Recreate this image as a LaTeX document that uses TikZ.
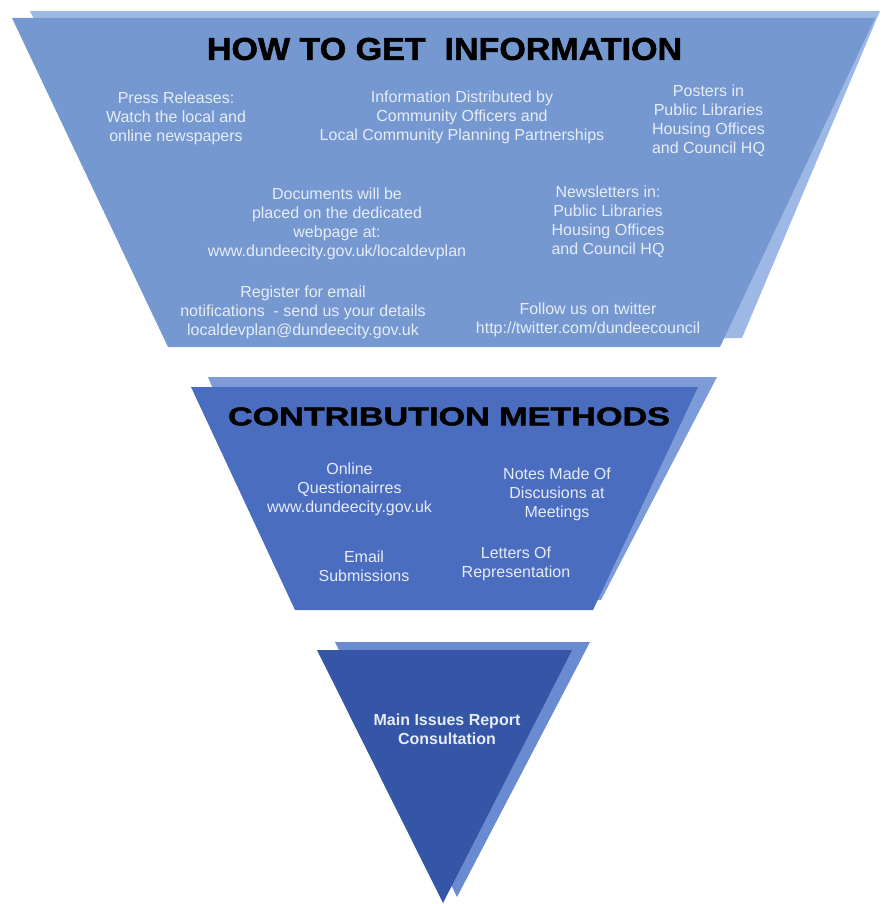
\documentclass[tikz,border=0pt]{standalone}
\usepackage{fontspec}
\setmainfont{Liberation Sans}
\newfontfamily\headfont[BoldFeatures={FakeBold=1.6}]{Liberation Sans}
\definecolor{topmain}{HTML}{7598D0}
\definecolor{topshadow}{HTML}{9DB8E4}
\definecolor{midmain}{HTML}{4B6DBF}
\definecolor{midshadow}{HTML}{7D9BD8}
\definecolor{botmain}{HTML}{3555A6}
\definecolor{botshadow}{HTML}{6A8BD0}
\definecolor{txt}{HTML}{E6ECF7}
\begin{document}
\begin{tikzpicture}[x=1pt,y=-1pt,
  body/.style={text=txt, align=center, inner sep=0pt, font=\fontsize{16}{19}\selectfont},
  heading/.style={text=black, inner sep=0pt, font=\headfont\bfseries}]
\useasboundingbox (0,0) rectangle (881,904);
% top trapezoid
\fill[topshadow] (30,11) -- (880,11) -- (742,338) -- (190,338) -- cycle;
\fill[topmain] (12,18) -- (875,18) -- (720,347) -- (168,347) -- cycle;
% middle trapezoid
\fill[midshadow] (208,377) -- (717,377) -- (601,600) -- (300,600) -- cycle;
\fill[midmain] (191,387) -- (698,387) -- (593,610) -- (295,610) -- cycle;
% bottom triangle
\fill[botshadow] (335,642) -- (590,642) -- (457,897) -- cycle;
\fill[botmain] (317,650) -- (572,650) -- (443,903) -- cycle;
% titles
\node[heading] (t1) at (444.5,49) {\resizebox{475pt}{22pt}{HOW TO GET~~INFORMATION}};
\node[heading] (t2) at (449,416.5) {\resizebox{442pt}{18pt}{CONTRIBUTION METHODS}};
% top texts
\node[body] (press) at (176,118) {Press Releases:\\Watch the local and\\online newspapers};
\node[body] (info) at (462,117) {Information Distributed by\\Community Officers and\\Local Community Planning Partnerships};
\node[body] (posters) at (708.5,121) {Posters in\\Public Libraries\\Housing Offices\\and Council HQ};
\node[body] (docs) at (337,223.5) {Documents will be\\placed on the dedicated\\webpage at:\\www.dundeecity.gov.uk/localdevplan};
\node[body] (news) at (608,221.5) {Newsletters in:\\Public Libraries\\Housing Offices\\and Council HQ};
\node[body] (reg) at (303,312) {Register for email\\notifications~ - send us your details\\localdevplan@dundeecity.gov.uk};
\node[body] (tw) at (588,320) {Follow us on twitter\\http://twitter.com/dundeecouncil};
% middle texts
\node[body] (online) at (349.5,489) {Online\\Questionairres\\www.dundeecity.gov.uk};
\node[body] (notes) at (557,494) {Notes Made Of\\Discusions at\\Meetings};
\node[body] (email) at (364,566.5) {Email\\Submissions};
\node[body] (letters) at (516,564) {Letters Of\\Representation};
% bottom text
\node[body, font=\fontsize{16}{19}\bfseries\selectfont] (mir) at (447,729.5) {Main Issues Report\\Consultation};
\end{tikzpicture}
\end{document}
